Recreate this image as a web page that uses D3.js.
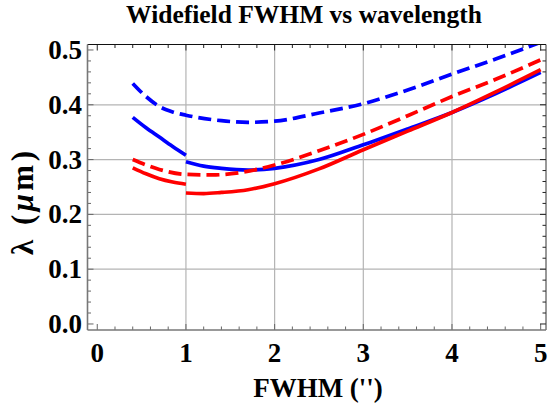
<!DOCTYPE html>
<html>
<head>
<meta charset="utf-8">
<script src="https://cdn.jsdelivr.net/npm/d3@7"></script>
<style>
  body { margin: 0; background: #fff; }
  svg { display: block; }
  text { font-family: "Liberation Serif", "Times New Roman", serif; font-weight: bold; fill: #000; }
</style>
</head>
<body>
<svg id="chart" width="551" height="406"></svg>
<script>
// ---- data ----
const title = "Widefield FWHM vs wavelength";
const xLabel = "FWHM ('')";
const yLabelParts = [["λ (", false], ["μ", true], ["m)", false]];
const xTicks = [0, 1, 2, 3, 4, 5];
const yTicks = [0.0, 0.1, 0.2, 0.3, 0.4, 0.5];

// blue dashed (continuous)
const blueDashedX = [0.4, 0.55, 0.7, 0.85, 1.0, 1.4, 1.7, 2.0, 2.5, 3.0, 3.5, 4.0, 4.5, 5.0];
const blueDashedY = [0.439, 0.415, 0.397, 0.387, 0.381, 0.371, 0.368, 0.370, 0.385, 0.402, 0.427, 0.456, 0.484, 0.514];
// blue solid, two segments
const blueSolid1X = [0.4, 0.55, 0.7, 0.85, 1.0];
const blueSolid1Y = [0.377, 0.358, 0.341, 0.324, 0.308];
const blueSolid2X = [1.0, 1.2, 1.4, 1.7, 2.0, 2.5, 3.0, 3.5, 4.0, 4.5, 5.0];
const blueSolid2Y = [0.296, 0.288, 0.284, 0.281, 0.284, 0.300, 0.327, 0.356, 0.386, 0.421, 0.459];
// red dashed (continuous)
const redDashedX = [0.4, 0.7, 1.0, 1.3, 1.6, 2.0, 2.5, 3.0, 3.5, 4.0, 4.5, 5.0];
const redDashedY = [0.300, 0.282, 0.273, 0.272, 0.276, 0.290, 0.316, 0.346, 0.380, 0.415, 0.447, 0.482];
// red solid, two segments
const redSolid1X = [0.4, 0.55, 0.7, 0.85, 1.0];
const redSolid1Y = [0.285, 0.274, 0.265, 0.259, 0.255];
const redSolid2X = [1.0, 1.2, 1.4, 1.7, 2.0, 2.5, 3.0, 3.5, 4.0, 4.5, 5.0];
const redSolid2Y = [0.239, 0.238, 0.240, 0.245, 0.256, 0.283, 0.318, 0.352, 0.386, 0.424, 0.464];

const seriesList = [
  {xs: blueDashedX, ys: blueDashedY, color: "#0000ff", dashed: true},
  {xs: blueSolid1X, ys: blueSolid1Y, color: "#0000ff", dashed: false},
  {xs: blueSolid2X, ys: blueSolid2Y, color: "#0000ff", dashed: false},
  {xs: redDashedX, ys: redDashedY, color: "#ff0000", dashed: true},
  {xs: redSolid1X, ys: redSolid1Y, color: "#ff0000", dashed: false},
  {xs: redSolid2X, ys: redSolid2Y, color: "#ff0000", dashed: false}
];

// ---- layout ----
const L = 87.5, R = 546, T = 44.5, B = 330;
const svg = d3.select("#chart");
const x = d3.scaleLinear().domain([-0.11, 5.06]).range([L, R]);
const y = d3.scaleLinear().domain([-0.011, 0.51]).range([B, T]);

svg.append("defs").append("clipPath").attr("id", "clip")
  .append("rect").attr("x", L).attr("y", T).attr("width", R - L).attr("height", B - T);

// grid lines
const gridX = [1, 2, 3, 4];
const gridY = [0.1, 0.2, 0.3, 0.4];
svg.append("g").selectAll("line").data(gridX).join("line")
  .attr("x1", d => x(d)).attr("x2", d => x(d)).attr("y1", T).attr("y2", B)
  .attr("stroke", "#b4b4b4").attr("stroke-width", 1.2);
svg.append("g").selectAll("line").data(gridY).join("line")
  .attr("y1", d => y(d)).attr("y2", d => y(d)).attr("x1", L).attr("x2", R)
  .attr("stroke", "#b4b4b4").attr("stroke-width", 1.2);

// minor/major ticks (inward)
const xMinor = d3.range(0, 5.01, 0.2).map(v => +v.toFixed(2));
const yMinor = d3.range(0, 0.5001, 0.02).map(v => +v.toFixed(3));
const isMajorX = v => Math.abs(v - Math.round(v)) < 1e-6;
const isMajorY = v => Math.abs(v * 10 - Math.round(v * 10)) < 1e-6;

const tk = svg.append("g");
tk.selectAll(".tb").data(xMinor).join("line")
  .attr("x1", d => x(d)).attr("x2", d => x(d))
  .attr("y1", B).attr("y2", d => B - (isMajorX(d) ? 6 : 3.5))
  .attr("stroke", "#666").attr("stroke-width", 1);
tk.selectAll(".tt").data(xMinor).join("line")
  .attr("x1", d => x(d)).attr("x2", d => x(d))
  .attr("y1", T).attr("y2", d => T + (isMajorX(d) ? 6 : 3.5))
  .attr("stroke", "#222").attr("stroke-width", 1);
tk.selectAll(".tl").data(yMinor).join("line")
  .attr("y1", d => y(d)).attr("y2", d => y(d))
  .attr("x1", L).attr("x2", d => L + (isMajorY(d) ? 6 : 3.5))
  .attr("stroke", "#666").attr("stroke-width", 1);
tk.selectAll(".tr").data(yMinor).join("line")
  .attr("y1", d => y(d)).attr("y2", d => y(d))
  .attr("x1", R).attr("x2", d => R - (isMajorY(d) ? 6 : 3.5))
  .attr("stroke", "#222").attr("stroke-width", 1);

// series
const line = d3.line().x(d => x(d[0])).y(d => y(d[1])).curve(d3.curveMonotoneX);
const lg = svg.append("g").attr("clip-path", "url(#clip)");
seriesList.forEach(s => {
  const pts = s.xs.map((v, i) => [v, s.ys[i]]);
  lg.append("path").datum(pts).attr("d", line)
    .attr("fill", "none").attr("stroke", s.color).attr("stroke-width", 3.7)
    .attr("stroke-dasharray", s.dashed ? "13,6" : null);
});

// frame
svg.append("line").attr("x1", L).attr("x2", R).attr("y1", T).attr("y2", T).attr("stroke", "#111").attr("stroke-width", 1.2);
svg.append("line").attr("x1", R).attr("x2", R).attr("y1", T).attr("y2", B).attr("stroke", "#333").attr("stroke-width", 1);
svg.append("line").attr("x1", L).attr("x2", R).attr("y1", B).attr("y2", B).attr("stroke", "#777").attr("stroke-width", 1.6);
svg.append("line").attr("x1", L).attr("x2", L).attr("y1", T).attr("y2", B).attr("stroke", "#777").attr("stroke-width", 1.6);

// tick labels
svg.append("g").selectAll("text").data(xTicks).join("text")
  .attr("x", d => x(d)).attr("y", 362).attr("text-anchor", "middle")
  .attr("font-size", 27).text(d => d3.format("d")(d));
svg.append("g").selectAll("text").data(yTicks).join("text")
  .attr("x", 82).attr("y", d => y(d) + 9).attr("text-anchor", "end")
  .attr("font-size", 27).text(d => d3.format(".1f")(d));

// titles
svg.append("text").attr("x", 304).attr("y", 23).attr("text-anchor", "middle")
  .attr("font-size", 25.5).text(title);
svg.append("text").attr("x", 318).attr("y", 397).attr("text-anchor", "middle")
  .attr("font-size", 27).text(xLabel);
const yl = svg.append("text").attr("transform", "translate(33,203) rotate(-90)")
  .attr("text-anchor", "middle").attr("font-size", 31)
  .attr("textLength", 104).attr("lengthAdjust", "spacing");
yLabelParts.forEach(([t, it]) => {
  yl.append("tspan").attr("font-style", it ? "italic" : "normal").text(t);
});
</script>
</body>
</html>
